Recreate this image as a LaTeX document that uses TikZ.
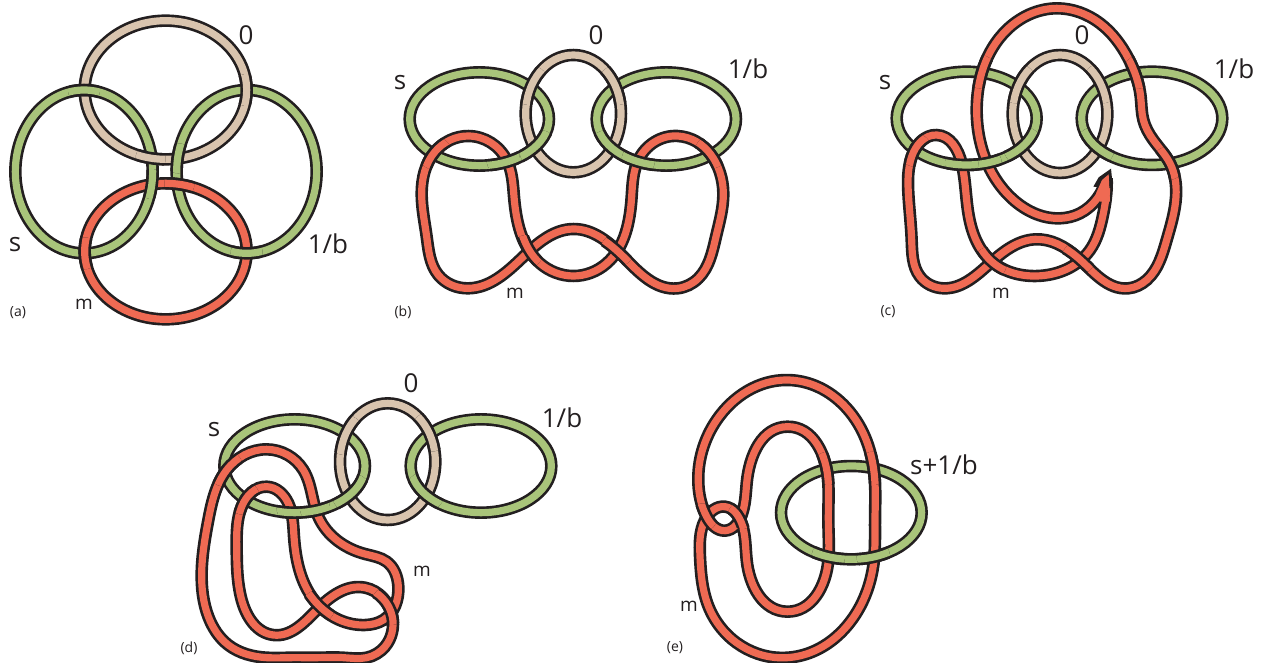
\documentclass[tikz,border=0pt]{standalone}
\usepackage{fontspec}
\usetikzlibrary{hobby}
\setmainfont{Open Sans}
\definecolor{knotrim}{HTML}{231F20}
\definecolor{knotbeige}{HTML}{D9C4AE}
\definecolor{knotgreen}{HTML}{A9C47A}
\definecolor{knotred}{HTML}{EF6A53}
\tikzset{
  rimline/.style={draw=knotrim,line width=12.5pt},
  bandline/.style={line width=7.2pt},
  biglabel/.style={font=\fontsize{26}{26}\selectfont,text=knotrim,inner sep=0pt},
  midlabel/.style={font=\fontsize{19}{19}\selectfont,text=knotrim,inner sep=0pt},
  smalllabel/.style={font=\fontsize{14}{14}\selectfont,text=knotrim,inner sep=0pt},
  panel/.style={shift={#1},scale=1/3}
}
\newcommand{\strand}[2]{\draw[rimline] #2; \draw[bandline,draw=#1] #2;}
\newcommand{\crossing}[4]{\begin{scope}\clip (#1) circle (#2); \strand{#3}{#4}\end{scope}}
\begin{document}
\begin{tikzpicture}[x=1pt,y=-1pt,use Hobby shortcut]
\useasboundingbox (0,0) rectangle (1265,663);
%panel a
\begin{scope}[panel={(0,0)}]
\def\beigea{(497,270) ellipse [x radius=243,y radius=208]}
\def\greensa{(252,515) ellipse [x radius=206,y radius=245]}
\def\greenra{(740,515) ellipse [x radius=210,y radius=245]}
\def\reda{(497,754) ellipse [x radius=243,y radius=204]}
\strand{knotbeige}{\beigea}
\strand{knotgreen}{\greensa}
\strand{knotgreen}{\greenra}
\strand{knotred}{\reda}
%over and under
\crossing{252,270}{48}{knotgreen}{\greensa}
\crossing{740,270}{48}{knotbeige}{\beigea}
\crossing{452,475}{45}{knotbeige}{\beigea}
\crossing{535,475}{45}{knotgreen}{\greenra}
\crossing{455,552}{45}{knotgreen}{\greensa}
\crossing{538,552}{45}{knotred}{\reda}
\crossing{252,760}{48}{knotred}{\reda}
\crossing{740,760}{48}{knotgreen}{\greenra}
\end{scope}
%panel b
\begin{scope}[panel={(380,20)}]
\def\beigeb{(580,281) ellipse [x radius=143,y radius=176]}
\def\greensb{(298,297) ellipse [x radius=209,y radius=140]}
\def\greenrb{(859,297) ellipse [x radius=209,y radius=140]}
\def\redb{([closed]265,348) .. (380,420) .. (402,530) .. (480,730) .. (580,768) .. (680,730) .. (755,530) .. (775,420) .. (893,348) .. (1030,520) .. (1008,650) .. (955,775) .. (893,805) .. (730,710) .. (580,627) .. (430,710) .. (265,805) .. (175,765) .. (140,650) .. (125,520) .. (165,395)}
\strand{knotbeige}{\beigeb}
\strand{knotgreen}{\greensb}
\strand{knotgreen}{\greenrb}
\strand{knotred}{\redb}
%over and under
\crossing{448,195}{60}{knotbeige}{\beigeb}
\crossing{712,195}{60}{knotbeige}{\beigeb}
\crossing{478,390}{60}{knotgreen}{\greensb}
\crossing{682,390}{60}{knotgreen}{\greenrb}
\crossing{165,400}{50}{knotred}{\redb}
\crossing{370,420}{50}{knotgreen}{\greensb}
\crossing{775,420}{50}{knotgreen}{\greenrb}
\crossing{995,395}{50}{knotred}{\redb}
\crossing{440,695}{50}{knotred}{(380,420) .. (402,530) .. (480,730) .. (580,768) .. (680,730)}
\crossing{712,690}{50}{knotred}{(430,710) .. (580,627) .. (730,710) .. (893,805) .. (955,775)}
\end{scope}
%panel c
\begin{scope}[panel={(860,0)}]
\def\beigec{(600,342) ellipse [x radius=142,y radius=177]}
\def\greensc{(320,355) ellipse [x radius=210,y radius=140]}
\def\greenrc{(876,355) ellipse [x radius=211,y radius=140]}
\def\redc{(740,535) .. (712,595) .. (660,640) .. (600,655) .. (450,590) .. (350,330) .. (440,90) .. (590,25) .. (720,70) .. (805,175) .. (842,290) .. (850,360) .. (880,420) .. (930,490) .. (948,590) .. (920,720) .. (860,840) .. (805,865) .. (650,770) .. (525,718) .. (390,790) .. (250,865) .. (180,830) .. (155,720) .. (145,580) .. (155,470) .. (230,405) .. (305,490) .. (325,640) .. (390,780) .. (530,828) .. (690,750) .. (728,650) .. (739,580) .. (740,535)}
\strand{knotbeige}{\beigec}
\strand{knotgreen}{\greensc}
\strand{knotgreen}{\greenrc}
\strand{knotred}{\redc}
%tip
\fill[knotrim] (753,506) -- (716,532) -- (700,560) -- (759,565) -- cycle;
\fill[knotred] (746,523) -- (726,540) -- (708,580) -- (720,605) -- (750,605) -- cycle;
%over and under
\crossing{470,250}{60}{knotbeige}{\beigec}
\crossing{725,250}{60}{knotbeige}{\beigec}
\crossing{490,440}{60}{knotgreen}{\greensc}
\crossing{705,440}{60}{knotgreen}{\greenrc}
\crossing{360,215}{50}{knotred}{\redc}
\crossing{840,215}{50}{knotred}{\redc}
\crossing{375,490}{50}{knotgreen}{\greensc}
\crossing{305,490}{50}{knotgreen}{\greensc}
\crossing{925,490}{50}{knotred}{\redc}
\crossing{165,450}{50}{knotred}{\redc}
\crossing{390,790}{50}{knotred}{(305,490) .. (325,640) .. (390,780) .. (530,828) .. (690,750)}
\crossing{655,775}{50}{knotred}{(390,790) .. (525,718) .. (650,770) .. (805,865) .. (860,840)}
\end{scope}
%panel d
\begin{scope}[panel={(170,360)}]
\def\beiged{(653,305) ellipse [x radius=143,y radius=175]}
\def\greensd{(374,318) ellipse [x radius=211,y radius=140]}
\def\greenrd{(933,318) ellipse [x radius=211,y radius=140]}
\def\redd{([closed]290,268) .. (400,330) .. (445,470) .. (585,582) .. (650,605) .. (685,680) .. (640,780) .. (585,795) .. (445,735) .. (372,530) .. (355,430) .. (290,380) .. (215,440) .. (200,560) .. (215,720) .. (310,825) .. (440,750) .. (585,683) .. (667,770) .. (645,860) .. (590,893) .. (520,893) .. (440,893) .. (360,893) .. (290,893) .. (175,855) .. (115,770) .. (95,640) .. (115,480) .. (170,330)}
\strand{knotbeige}{\beiged}
\strand{knotgreen}{\greensd}
\strand{knotgreen}{\greenrd}
\strand{knotred}{\redd}
%over and under
\crossing{525,225}{60}{knotbeige}{\beiged}
\crossing{782,215}{60}{knotbeige}{\beiged}
\crossing{545,400}{60}{knotgreen}{\greensd}
\crossing{765,395}{60}{knotgreen}{\greenrd}
\crossing{165,325}{55}{knotred}{\redd}
\crossing{220,414}{50}{knotred}{\redd}
\crossing{365,445}{45}{knotgreen}{\greensd}
\crossing{435,445}{45}{knotgreen}{\greensd}
\crossing{445,740}{50}{knotred}{(372,530) .. (445,735) .. (585,795) .. (640,780)}
\crossing{663,735}{60}{knotred}{(440,750) .. (585,683) .. (667,770) .. (645,860) .. (590,893)}
\end{scope}
%panel e
\begin{scope}[panel={(660,360)}]
\def\greene{(574,458) ellipse [x radius=211,y radius=140]}
\def\rede{([closed]382,60) .. (610,220) .. (645,370) .. (645,480) .. (642,600) .. (610,720) .. (382,893) .. (150,750) .. (120,590) .. (135,480) .. (195,440) .. (245,490) .. (260,600) .. (382,755) .. (505,600) .. (505,480) .. (505,370) .. (382,200) .. (260,370) .. (245,465) .. (195,512) .. (140,470) .. (115,370) .. (170,180)}
\strand{knotgreen}{\greene}
\strand{knotred}{\rede}
%over and under
\crossing{505,325}{50}{knotred}{\rede}
\crossing{640,325}{50}{knotred}{\rede}
\crossing{505,590}{50}{knotgreen}{\greene}
\crossing{640,590}{50}{knotgreen}{\greene}
\crossing{130,472}{42}{knotred}{(115,370) .. (140,470) .. (195,512) .. (245,465) .. (260,370)}
\crossing{246,465}{42}{knotred}{(120,590) .. (135,480) .. (195,440) .. (245,490) .. (260,600)}
\end{scope}
%labels a
\node[biglabel] (zeroa) at (246,35) {0};
\node[biglabel] (sa) at (15,245) {s};
\node[biglabel] (ba) at (328,244) {1/b};
\node[midlabel] (ma) at (84,304) {m};
\node[smalllabel] (capa) at (18,313) {(a)};
%labels b
\node[biglabel] (zerob) at (596,35) {0};
\node[biglabel] (sb) at (400,83) {s};
\node[biglabel] (bb) at (748,69) {1/b};
\node[midlabel] (mb) at (515,293) {m};
\node[smalllabel] (capb) at (403,312) {(b)};
%labels c
\node[biglabel] (zeroc) at (1082,35) {0};
\node[biglabel] (sc) at (885,83) {s};
\node[biglabel] (bc) at (1234,69) {1/b};
\node[midlabel] (mc) at (1001,293) {m};
\node[smalllabel] (capc) at (888,312) {(c)};
%labels d
\node[biglabel] (zerod) at (411,383) {0};
\node[biglabel] (sd) at (214,430) {s};
\node[biglabel] (bd) at (562,418) {1/b};
\node[midlabel] (md) at (422,571) {m};
\node[smalllabel] (capd) at (189,648) {(d)};
%labels e
\node[biglabel] (be) at (944,465) {s+1/b};
\node[midlabel] (me) at (689,606) {m};
\node[smalllabel] (cape) at (675,648) {(e)};
\end{tikzpicture}
\end{document}
